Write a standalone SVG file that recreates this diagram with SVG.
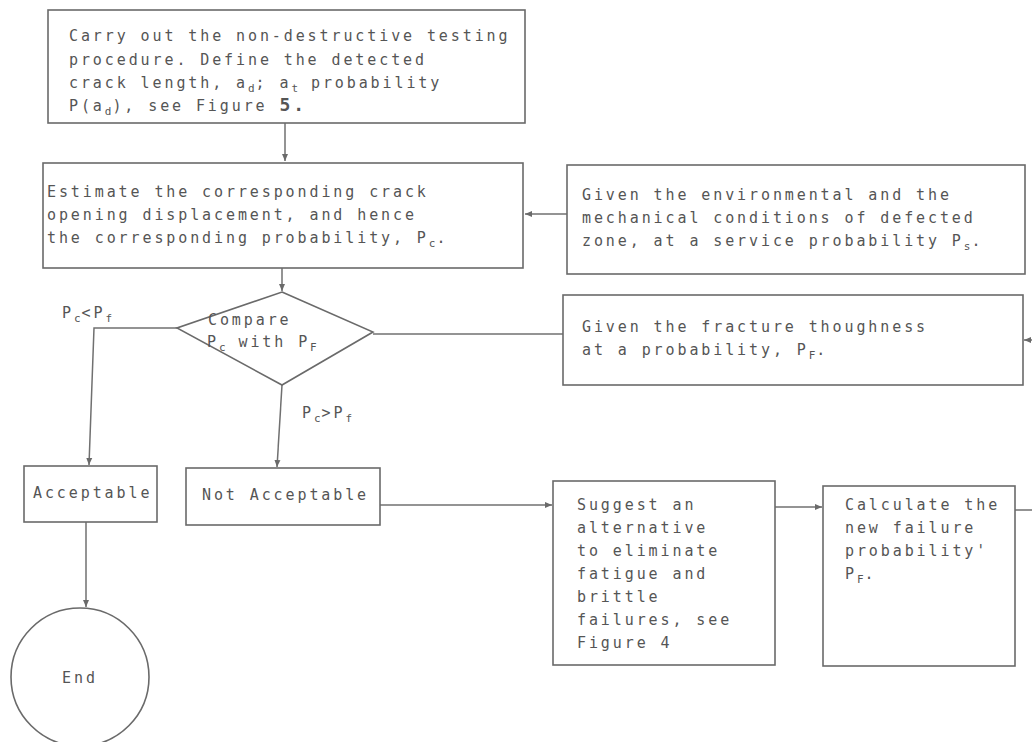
<svg xmlns="http://www.w3.org/2000/svg" width="1032" height="742" viewBox="0 0 1032 742">
<style>
.b{fill:none;stroke:#6a6a6a;stroke-width:1.6}
.c{fill:none;stroke:#707070;stroke-width:1.5}
text{font-family:"DejaVu Sans Mono","Liberation Mono",monospace;font-size:15px;fill:#555;letter-spacing:2.9px}
.s{font-size:11px;letter-spacing:1px}
</style>
<defs>
<marker id="ah" markerWidth="8" markerHeight="8" refX="7" refY="4" orient="auto" markerUnits="userSpaceOnUse">
<path d="M0,1 L7,4 L0,7 Z" fill="#6a6a6a"/>
</marker>
</defs>
<rect width="1032" height="742" fill="#ffffff"/>
<g id="connectors">
<path class="c" d="M285,123 V161" marker-end="url(#ah)"/>
<path class="c" d="M567,214 H525" marker-end="url(#ah)"/>
<path class="c" d="M282,268 V291" marker-end="url(#ah)"/>
<path class="c" d="M177,328 H94 L89,465" marker-end="url(#ah)"/>
<path class="c" d="M282,385 L277,467" marker-end="url(#ah)"/>
<path class="c" d="M373,334 H563"/>
<path class="c" d="M86,522 V607" marker-end="url(#ah)"/>
<path class="c" d="M380,505 H552" marker-end="url(#ah)"/>
<path class="c" d="M775,507 H822" marker-end="url(#ah)"/>
<path class="c" d="M1015,510 H1045 V340 H1024" marker-end="url(#ah)"/>
<text x="62" y="318">P<tspan class="s" dy="4">c</tspan><tspan dy="-4">&lt;P</tspan><tspan class="s" dy="4">f</tspan></text>
<text x="302" y="418">P<tspan class="s" dy="4">c</tspan><tspan dy="-4">&gt;P</tspan><tspan class="s" dy="4">f</tspan></text>
</g>
<g id="n1">
<rect class="b" x="48" y="10" width="477" height="113"/>
<text x="69" y="41">Carry out the non-destructive testing</text>
<text x="69" y="65">procedure.  Define the detected</text>
<text x="69" y="88">crack length, a<tspan class="s" dy="4">d</tspan><tspan dy="-4">; a</tspan><tspan class="s" dy="4">t</tspan><tspan dy="-4"> probability</tspan></text>
<text x="69" y="111">P(a<tspan class="s" dy="4">d</tspan><tspan dy="-4">), see Figure </tspan><tspan font-size="18" font-weight="bold">5.</tspan></text>
</g>
<g id="n2">
<rect class="b" x="43" y="163" width="480" height="105"/>
<text x="47" y="197">Estimate the corresponding crack</text>
<text x="47" y="220">opening displacement, and hence</text>
<text x="47" y="243">the corresponding probability, P<tspan class="s" dy="4">c</tspan><tspan dy="-4">.</tspan></text>
</g>
<g id="n3">
<rect class="b" x="567" y="165" width="458" height="109"/>
<text x="582" y="200">Given the environmental and the</text>
<text x="582" y="223">mechanical conditions of defected</text>
<text x="582" y="246">zone, at a service probability P<tspan class="s" dy="4">s</tspan><tspan dy="-4">.</tspan></text>
</g>
<g id="n4">
<polygon class="b" points="282,292 373,332 282,385 177,328"/>
<text x="208" y="325">Compare</text>
<text x="207" y="347">P<tspan class="s" dy="4">c</tspan><tspan dy="-4"> with P</tspan><tspan class="s" dy="4">F</tspan></text>
</g>
<g id="n5">
<rect class="b" x="563" y="295" width="460" height="90"/>
<text x="582" y="332">Given the fracture thoughness</text>
<text x="582" y="355">at a probability, P<tspan class="s" dy="4">F</tspan><tspan dy="-4">.</tspan></text>
</g>
<g id="n6">
<rect class="b" x="24" y="466" width="133" height="56"/>
<text x="33" y="498">Acceptable</text>
</g>
<g id="n7">
<rect class="b" x="186" y="468" width="194" height="57"/>
<text x="202" y="500">Not Acceptable</text>
</g>
<g id="n8">
<rect class="b" x="553" y="481" width="222" height="184"/>
<text x="577" y="510">Suggest an</text>
<text x="577" y="533">alternative</text>
<text x="577" y="556">to eliminate</text>
<text x="577" y="579">fatigue and</text>
<text x="577" y="602">brittle</text>
<text x="577" y="625">failures, see</text>
<text x="577" y="648">Figure 4</text>
</g>
<g id="n9">
<rect class="b" x="823" y="486" width="192" height="180"/>
<text x="845" y="510">Calculate the</text>
<text x="845" y="533">new failure</text>
<text x="845" y="556">probability'</text>
<text x="845" y="579">P<tspan class="s" dy="4">F</tspan><tspan dy="-4">.</tspan></text>
</g>
<g id="n10">
<circle class="b" cx="80" cy="677" r="69"/>
<text x="80" y="683" text-anchor="middle">End</text>
</g>
</svg>
